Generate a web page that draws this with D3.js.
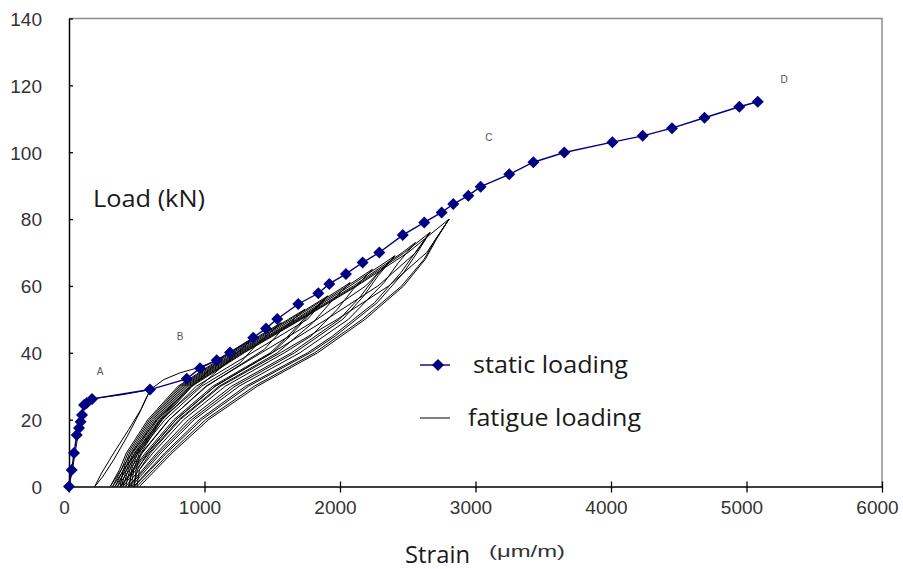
<!DOCTYPE html>
<html>
<head>
<meta charset="utf-8">
<script src="https://cdn.jsdelivr.net/npm/d3@7"></script>
<style>
  html, body { margin: 0; padding: 0; background: #fff; }
  svg { display: block; }
</style>
</head>
<body>
<svg id="chart" width="903" height="569"></svg>
<script>
// strain (µm/m), load (kN)
var staticLoading = [
    [0, 0], [20, 4.9], [37, 10], [57, 15.4], [74, 17.5], [86, 19.4], [96, 21.4],
    [111, 24.4], [131, 25], [170, 26.2], [598, 29], [869, 32.2], [967, 35.4],
    [1090, 37.8], [1188, 40.1], [1360, 44.5], [1454, 47.3], [1537, 50.1],
    [1692, 54.6], [1840, 57.8], [1921, 60.6], [2044, 63.6], [2167, 67], [2290, 70],
    [2463, 75.2], [2622, 79], [2750, 82], [2836, 84.5], [2947, 87], [3038, 89.7],
    [3249, 93.4], [3427, 97], [3655, 99.9], [4010, 103], [4234, 104.9],
    [4450, 107.2], [4690, 110.3], [4947, 113.6], [5083, 115.1]
];

// fatigue test, one cycle per row, each cycle continues where the previous one ended
var fatigueCycles = [
    [[0, 0], [25, 5], [45, 10], [65, 15], [85, 20], [105, 24], [140, 25.5], [220, 26.5], [400, 27.5], [600, 29]],
    [[520, 22], [430, 15], [330, 8], [250, 3], [190, 0], [240, 4], [330, 10], [440, 17], [530, 23], [600, 29]],
    [[700, 32], [820, 34], [950, 35.5], [1080, 37.5], [1140, 39], [989, 33], [827, 27], [648, 20], [463, 10], [384, 5], [304, 0]],
    [[372, 5], [423, 10], [582, 20], [805, 30], [1185, 40], [1349, 44], [1189, 38], [1022, 32], [678, 20], [487, 10], [405, 5], [322, 0]],
    [[386, 5], [435, 10], [594, 20], [817, 30], [1196, 40], [1567, 49], [1398, 43], [1263, 37], [979, 30], [708, 20], [511, 10], [426, 5], [340, 0]],
    [[401, 5], [447, 10], [606, 20], [829, 30], [1211, 40], [1619, 50], [1741, 53], [1574, 47], [1441, 41], [1016, 30], [738, 20], [535, 10], [447, 5], [358, 0]],
    [[413, 5], [459, 10], [618, 20], [841, 30], [1226, 40], [1633, 50], [1910, 57], [1753, 51], [1617, 45], [1486, 40], [1062, 30], [774, 20], [563, 10], [471, 5], [378, 0]],
    [[400, 5], [500, 10], [690, 20], [940, 30], [1350, 40], [1760, 50], [1910, 57], [1765, 51], [1632, 45], [1500, 40], [1078, 30], [790, 20], [575, 10], [480, 5], [384, 0]],
    [[425, 5], [471, 10], [630, 20], [853, 30], [1238, 40], [1651, 50], [2037, 60], [2075, 61], [1929, 55], [1800, 49], [1538, 40], [1108, 30], [810, 20], [591, 10], [495, 5], [398, 0]],
    [[437, 5], [483, 10], [642, 20], [865, 30], [1250, 40], [1672, 50], [2054, 60], [2240, 65], [2097, 59], [1980, 53], [1787, 45], [1590, 40], [1154, 30], [846, 20], [619, 10], [519, 5], [418, 0]],
    [[449, 5], [495, 10], [654, 20], [877, 30], [1262, 40], [1684, 50], [2074, 60], [2405, 69], [2265, 63], [2154, 57], [1996, 50], [1642, 40], [1200, 30], [882, 20], [647, 10], [543, 5], [438, 0]],
    [[470, 5], [540, 10], [740, 20], [1010, 30], [1420, 40], [1830, 50], [2190, 60], [2405, 69], [2280, 63], [2175, 57], [2020, 50], [1665, 40], [1225, 30], [905, 20], [662, 10], [555, 5], [446, 0]],
    [[461, 5], [507, 10], [666, 20], [889, 30], [1274, 40], [1696, 50], [2099, 60], [2461, 70], [2558, 73], [2432, 67], [2325, 61], [2062, 50], [1704, 40], [1255, 30], [924, 20], [679, 10], [570, 5], [460, 0]],
    [[478, 5], [519, 10], [675, 20], [898, 30], [1283, 40], [1705, 50], [2115, 60], [2477, 70], [2664, 76], [2555, 70], [2450, 64], [2255, 55], [1945, 45], [1761, 40], [1304, 30], [961, 20], [706, 10], [592, 5], [477, 0]],
    [[505, 5], [580, 10], [790, 20], [1080, 30], [1500, 40], [1900, 50], [2280, 60], [2560, 70], [2664, 76], [2570, 70], [2470, 64], [2275, 55], [1965, 45], [1780, 40], [1325, 30], [980, 20], [720, 10], [602, 5], [482, 0]],
    [[495, 5], [531, 10], [685, 20], [908, 30], [1293, 40], [1715, 50], [2125, 60], [2502, 70], [2805, 80], [2707, 74], [2621, 68], [2455, 60], [2165, 50], [1813, 40], [1367, 30], [1009, 20], [742, 10], [622, 5], [501, 0]],
    [[520, 5], [600, 10], [820, 20], [1120, 30], [1560, 40], [1980, 50], [2360, 60], [2640, 70], [2805, 80], [2712, 74], [2630, 68], [2470, 60], [2185, 50], [1835, 40], [1390, 30], [1030, 20], [760, 10], [640, 5], [520, 0]]
];

var xTicks = [0, 1000, 2000, 3000, 4000, 5000, 6000];
var yTicks = [0, 20, 40, 60, 80, 100, 120, 140];

var pointLabels = [
    { text: 'A', strain: 229, load: 33.4 },
    { text: 'B', strain: 819, load: 43.8 },
    { text: 'C', strain: 3099, load: 103.3 },
    { text: 'D', strain: 5277, load: 120.7 }
];

var legendItems = ['static loading', 'fatigue loading'];

var svg = d3.select('#chart');
var plotLeft = 69, plotRight = 882, plotTop = 18.5, plotBottom = 486.5;

var x = d3.scaleLinear().domain([0, 6000]).range([plotLeft, plotRight]);
var y = d3.scaleLinear().domain([0, 140]).range([plotBottom, plotTop]);

// plot frame (top and right are grey)
svg.append('path')
    .attr('d', 'M' + plotLeft + ',' + plotTop + 'H' + plotRight + 'V' + plotBottom)
    .attr('fill', 'none')
    .attr('stroke', '#8c8c8c')
    .attr('stroke-width', 1.5);

var tickFont = '"Liberation Sans", Arial, sans-serif';

var xAxis = svg.append('g')
    .attr('transform', 'translate(0,' + plotBottom + ')')
    .call(d3.axisBottom(x).tickValues(xTicks).tickSizeInner(-5).tickSizeOuter(0).tickFormat(d3.format('d')));
xAxis.selectAll('.tick line').attr('y1', 6).attr('stroke', '#000').attr('stroke-width', 1.3);
xAxis.select('.domain').attr('stroke', '#000').attr('stroke-width', 1.5);
xAxis.selectAll('.tick text')
    .attr('y', 27).attr('dy', 0).attr('dx', -5)
    .attr('font-family', tickFont).attr('font-size', 19).attr('fill', '#333');

var yAxis = svg.append('g')
    .attr('transform', 'translate(' + plotLeft + ',0)')
    .call(d3.axisLeft(y).tickValues(yTicks).tickSizeInner(7).tickSizeOuter(0));
yAxis.selectAll('.tick line').attr('x2', 4).attr('stroke', '#000').attr('stroke-width', 1.3);
yAxis.select('.domain').attr('stroke', '#000').attr('stroke-width', 1.5);
yAxis.selectAll('.tick text')
    .attr('x', -27).attr('dy', '0.36em')
    .attr('font-family', tickFont).attr('font-size', 19).attr('fill', '#333');

var line = d3.line()
    .x(function(d) { return x(d[0]); })
    .y(function(d) { return y(d[1]); });

// fatigue cycles drawn as one continuous trace
svg.append('path')
    .datum(d3.merge(fatigueCycles))
    .attr('d', line)
    .attr('fill', 'none')
    .attr('stroke', '#000')
    .attr('stroke-width', 1)
    .attr('stroke-linejoin', 'round');

var navy = '#000080';
svg.append('path')
    .datum(staticLoading)
    .attr('d', line)
    .attr('fill', 'none')
    .attr('stroke', navy)
    .attr('stroke-width', 1.4);

var diamond = d3.symbol().type(d3.symbolSquare).size(72);
svg.append('g').selectAll('path')
    .data(staticLoading)
    .enter().append('path')
    .attr('d', diamond)
    .attr('transform', function(d) { return 'translate(' + x(d[0]) + ',' + y(d[1]) + ') rotate(45)'; })
    .attr('fill', navy);

svg.append('g').selectAll('text')
    .data(pointLabels)
    .enter().append('text')
    .attr('x', function(d) { return x(d.strain); })
    .attr('y', function(d) { return y(d.load); })
    .attr('text-anchor', 'middle')
    .attr('font-family', tickFont)
    .attr('font-size', 10)
    .attr('fill', '#555')
    .text(function(d) { return d.text; });

var labelFont = '"Open Sans", "Noto Sans", sans-serif';

svg.append('text')
    .attr('x', 93).attr('y', 207)
    .attr('font-family', labelFont).attr('font-size', 24).attr('fill', '#1a1a1a')
    .attr('textLength', 112).attr('lengthAdjust', 'spacingAndGlyphs')
    .text('Load (kN)');

svg.append('text')
    .attr('x', 405).attr('y', 563)
    .attr('font-family', labelFont).attr('font-size', 24).attr('fill', '#1a1a1a')
    .attr('textLength', 65).attr('lengthAdjust', 'spacingAndGlyphs')
    .text('Strain');

svg.append('text')
    .attr('x', 489).attr('y', 557)
    .attr('font-family', tickFont).attr('font-size', 17).attr('fill', '#333')
    .attr('textLength', 76).attr('lengthAdjust', 'spacingAndGlyphs')
    .text('(μm/m)');

// legend
var legend = svg.append('g');
var rows = legend.selectAll('g')
    .data(legendItems)
    .enter().append('g')
    .attr('transform', function(d, i) { return 'translate(420,' + (365 + i * 53) + ')'; });
rows.append('line')
    .attr('x1', 0).attr('x2', 30)
    .attr('stroke', function(d, i) { return i === 0 ? navy : '#000'; })
    .attr('stroke-width', function(d, i) { return i === 0 ? 1.4 : 1; });
rows.filter(function(d, i) { return i === 0; })
    .append('path')
    .attr('d', diamond)
    .attr('transform', 'translate(18,0) rotate(45)')
    .attr('fill', navy);
rows.append('text')
    .attr('x', function(d, i) { return i === 0 ? 53 : 48; })
    .attr('y', 8)
    .attr('font-family', labelFont).attr('font-size', 24).attr('fill', '#1a1a1a')
    .attr('textLength', function(d, i) { return i === 0 ? 155 : 173; })
    .attr('lengthAdjust', 'spacingAndGlyphs')
    .text(function(d) { return d; });
</script>
</body>
</html>
